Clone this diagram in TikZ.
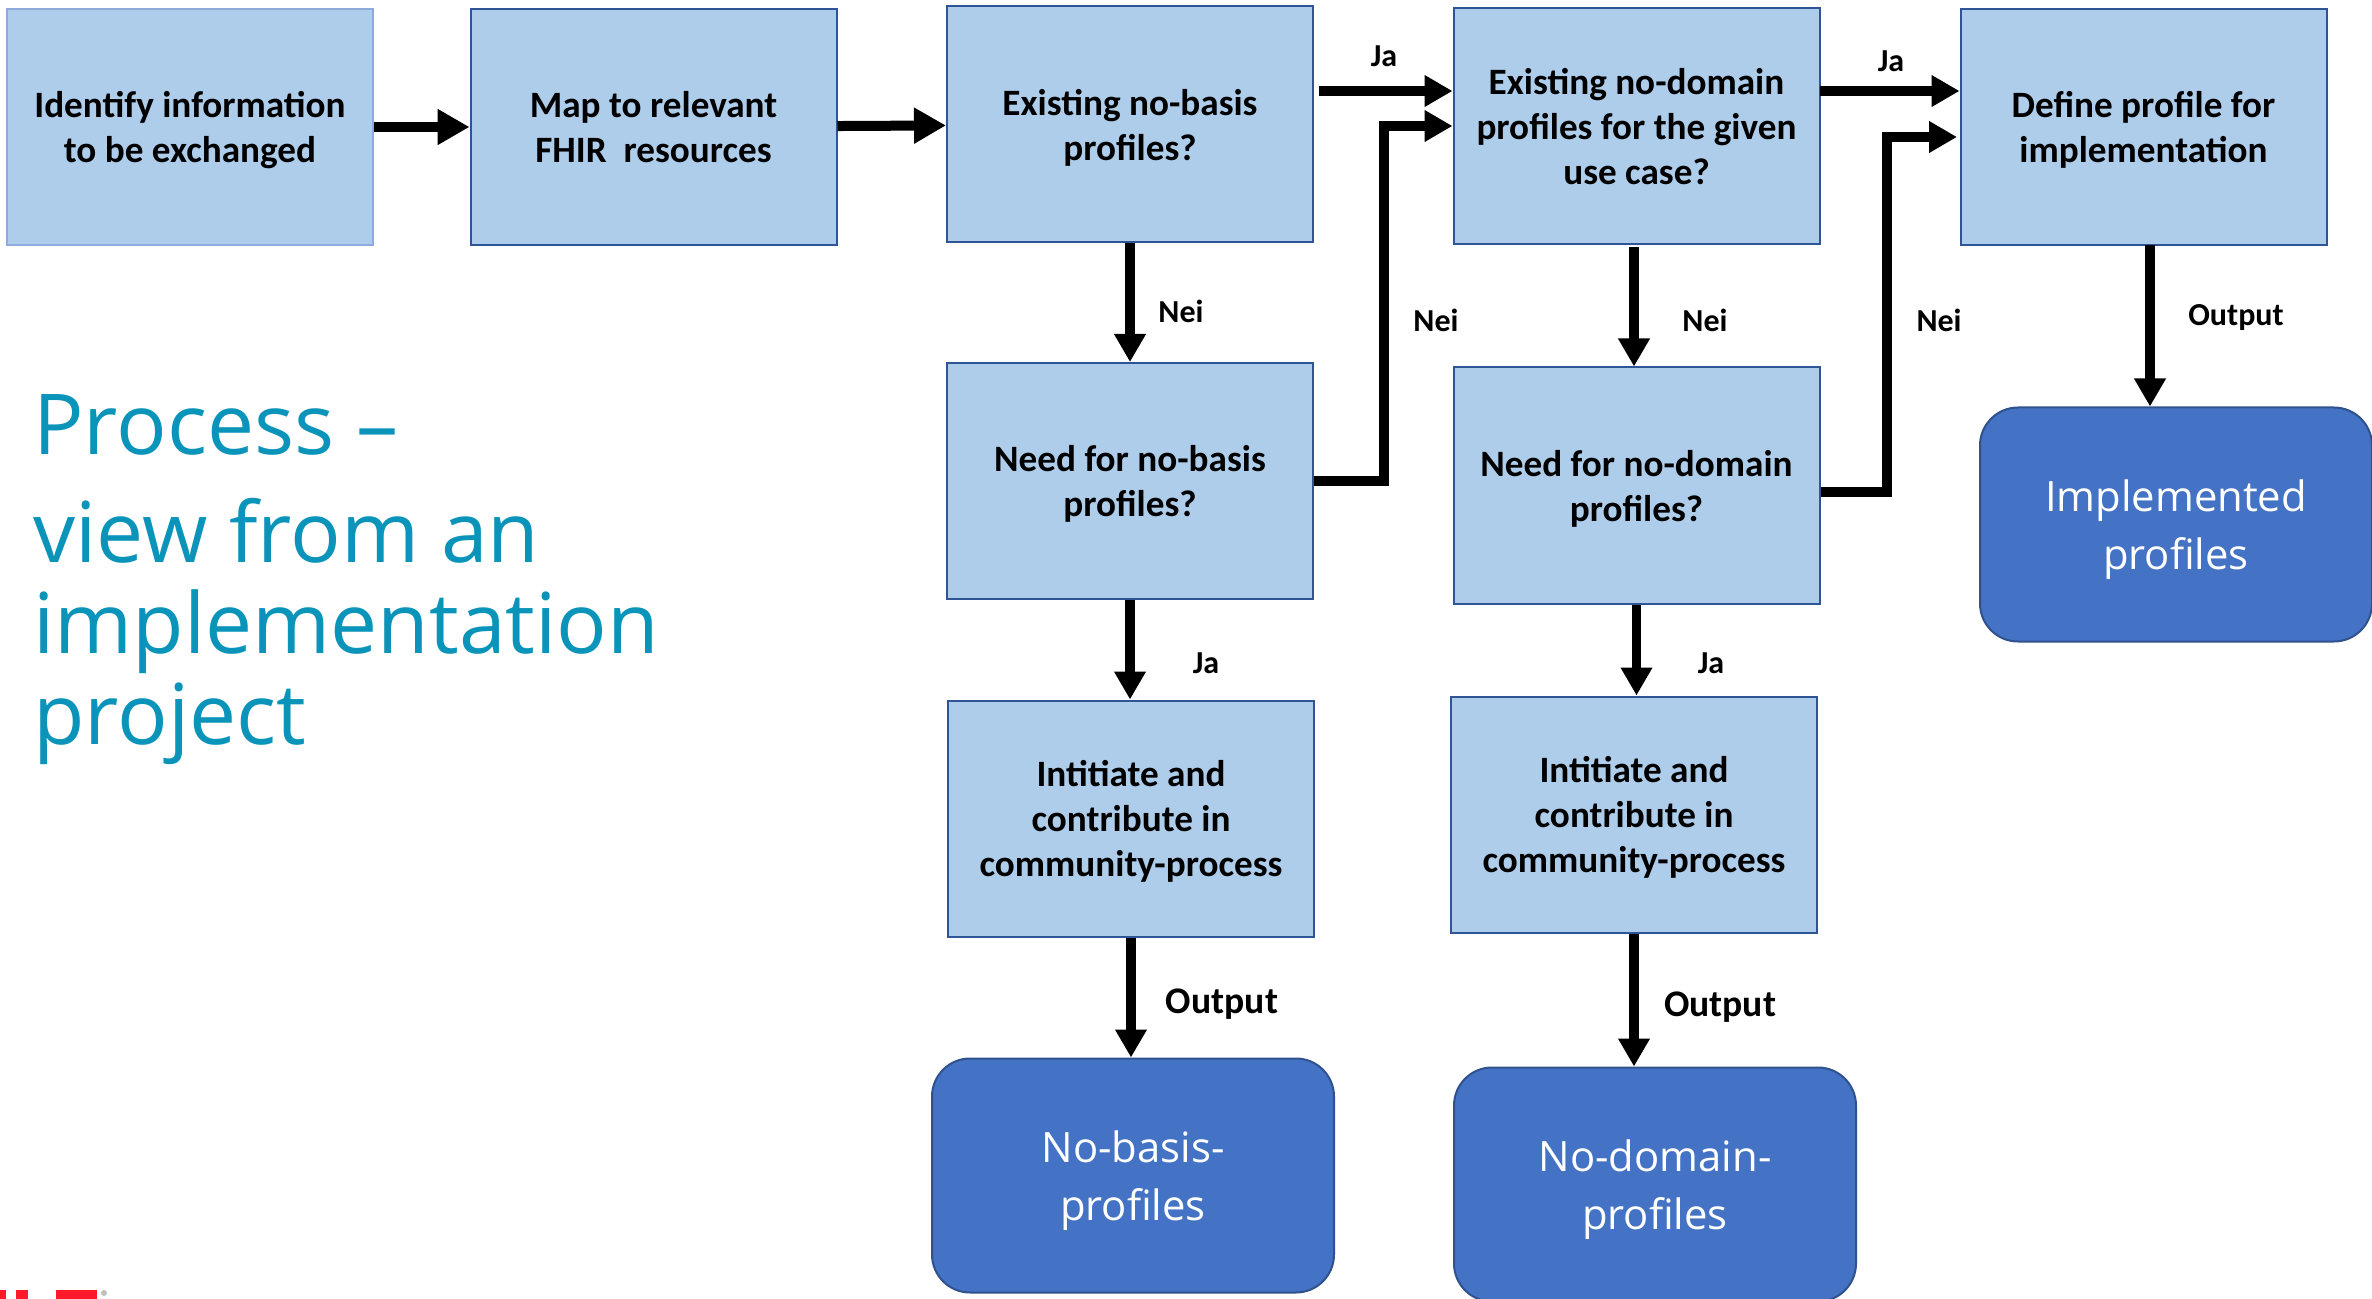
\documentclass[tikz,border=0pt]{standalone}
\usepackage{fontspec}
\setmainfont{Carlito}
\newfontfamily\headfont{Open Sans}
\usetikzlibrary{arrows.meta}

\definecolor{boxfill}{HTML}{AECDEB}
\definecolor{boxline}{HTML}{2F5597}
\definecolor{paleline}{HTML}{8FAADC}
\definecolor{resultfill}{HTML}{4472C4}
\definecolor{resultline}{HTML}{2F528F}
\definecolor{headcol}{HTML}{0A94BA}
\definecolor{logored}{HTML}{FF1A2B}

\tikzset{
    stepbox/.style={rectangle, draw=boxline, fill=boxfill, line width=1pt, inner sep=0pt,
        minimum width=183pt, minimum height=118pt, align=center, text depth=-1.5pt,
        font=\fontsize{18.6}{22.5}\selectfont\bfseries},
    resultbox/.style={rectangle, rounded corners=19pt, draw=resultline, fill=resultfill, line width=1pt,
        inner sep=0pt, minimum width=201pt, minimum height=117pt, align=center, text=white, text depth=-1.5pt,
        font=\headfont\fontsize{20.9}{29}\selectfont},
    flow/.style={-{Triangle[length=14pt,width=15pt]}, line width=4.6pt, black},
    thickflow/.style={-{Triangle[length=16pt,width=17pt]}, line width=5pt, black},
    answer/.style={font=\fontsize{16}{18}\selectfont\bfseries},
    bigoutput/.style={font=\fontsize{18.8}{20}\selectfont\bfseries},
    logobar/.style={fill=logored, draw=none}
}

\begin{document}
\begin{tikzpicture}[x=0.5pt, y=-0.5pt]
    \useasboundingbox (0,0) rectangle (2372,1299);
    \clip (0,0) rectangle (2372,1299);

    % top row
    \node[stepbox, draw=paleline] (identify) at (190,127) {Identify information\\to be exchanged};
    \node[stepbox, text depth=-2.5pt] (map) at (653.5,127) {Map to relevant\\FHIR\ \ resources};
    \node[stepbox] (basis) at (1130,124.5) {Existing no-basis\\profiles?};
    \node[stepbox] (domain) at (1636.5,126) {Existing no-domain\\profiles for the given\\use case?};
    \node[stepbox] (define) at (2143.5,127) {Define profile for\\implementation};

    % second row
    \node[stepbox] (needbasis) at (1130,481) {Need for no-basis\\profiles?};
    \node[stepbox] (needdomain) at (1636.5,485.5) {Need for no-domain\\profiles?};

    % third row
    \node[stepbox] (initbasis) at (1131,818.5) {Intitiate and\\contribute in\\community-process};
    \node[stepbox] (initdomain) at (1634,814.5) {Intitiate and\\contribute in\\community-process};

    % results
    \node[resultbox, minimum width=196pt] (implemented) at (2176,524.5) {Implemented\\profiles};
    \node[resultbox] (resbasis) at (1133,1175.5) {No-basis-\\profiles};
    \node[resultbox] (resdomain) at (1655,1184.5) {No-domain-\\profiles};

    % heading
    \node[anchor=north west, inner sep=0pt, align=left, text=headcol,
        font=\headfont\fontsize{42}{45.5}\selectfont] (heading) at (33,394)
        {Process –\\[8.5pt]view from an\\implementation\\project};

    % free ends
    \coordinate (jabasis) at (1319,91);
    \coordinate (neibasis) at (1384,126);
    \coordinate (jadomain) at (1820,91);
    \coordinate (neidomain) at (1887,137);
    \coordinate (neidomainin) at (1957,137);
    \coordinate (nodown) at (1634,247);
    \coordinate (defdown) at (2150,245);

    % arrows
    \draw[thickflow] (identify) -- (map);
    \draw[thickflow] (map) -- (basis);
    \draw[flow] (jabasis) -- (jabasis -| domain.west);
    \draw[flow] (jadomain) -- (jadomain -| define.west);
    \draw[flow] (needbasis.east) -| (neibasis) -- (neibasis -| domain.west);
    \draw[flow] ([yshift=-3.25pt]needdomain.east) -| (neidomain) -- (neidomainin);
    \draw[flow] (basis) -- (needbasis);
    \draw[flow] (nodown) -- (nodown |- needdomain.north);
    \draw[flow] (needbasis) -- (initbasis.north -| needbasis);
    \draw[flow] (needdomain) -- (needdomain |- initdomain.north);
    \draw[flow] (initbasis) -- (initbasis |- resbasis.north);
    \draw[flow] (initdomain) -- (initdomain |- resdomain.north);
    \draw[flow] (defdown) -- (defdown |- implemented.north);

    % labels
    \node[answer] (lblja) at (1384,56) {Ja};
    \node[answer] (lbljb) at (1891,61) {Ja};
    \node[answer] (lblna) at (1181,311) {Nei};
    \node[answer] (lblnb) at (1436,320) {Nei};
    \node[answer] (lblnc) at (1705,320) {Nei};
    \node[answer] (lblnd) at (1939,320) {Nei};
    \node[answer] (lbljc) at (1206,663) {Ja};
    \node[answer] (lbljd) at (1711,663) {Ja};
    \node[answer] (lblout) at (2236,318) {Output};
    \node[bigoutput] (lbloutb) at (1222,1004) {Output};
    \node[bigoutput] (lbloutd) at (1720,1007) {Output};

    % cut-off logo
    \fill[logobar] (0,1290) rectangle (6,1299);
    \fill[logobar] (16,1290) rectangle (28,1299);
    \fill[logobar] (56,1290) rectangle (97,1299);
    \fill[black!25] (104,1293) circle (3);
\end{tikzpicture}
\end{document}
